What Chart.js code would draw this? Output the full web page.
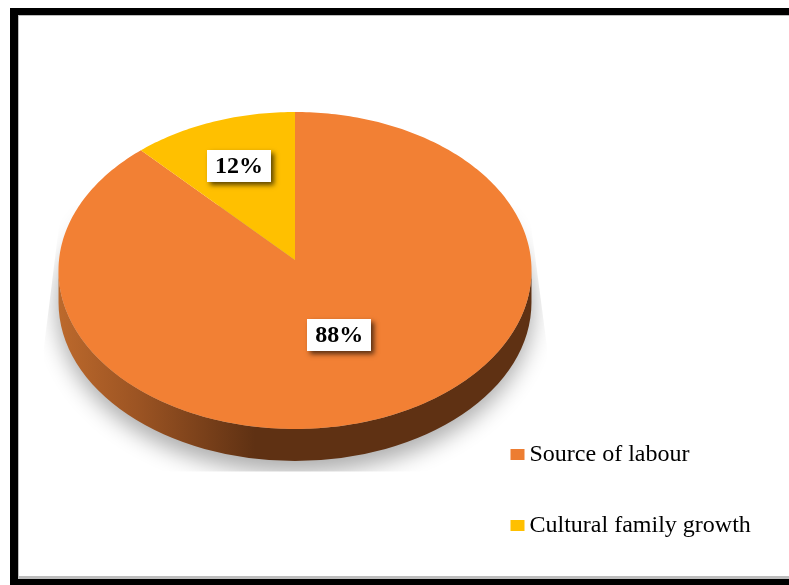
<!DOCTYPE html>
<html>
<head>
<meta charset="utf-8">
<title>Source of labour and cultural family growth</title>
<style>
  html, body { margin: 0; padding: 0; background: #fff; }
  canvas { display: block; }
</style>
<script src="https://cdn.jsdelivr.net/npm/chart.js@4/dist/chart.umd.js"></script>
</head>
<body>
<canvas id="chart" width="789" height="585"></canvas>
<script>
// Chart data
const categories = ['Source of labour', 'Cultural family growth'];
const shares = [88, 12];

// Slice and legend colours
const faceColors = ['#F28034', '#FFC000'];
const legendColors = ['#ED7D31', '#FFC000'];

// Distance of each value label from the pie centre, as a fraction of the radius
const labelRadii = [0.495, 0.67];

const SERIF = '"Liberation Serif", "Times New Roman", serif';
const TILT = { squash: 0.6686, perspective: -0.0662, depth: 32 };

// Maps a point of the unit circle onto the tilted disc
function project(arc, u, v) {
  const w = 1 + TILT.perspective * v;
  return {
    x: arc.x + arc.outerRadius * u / w,
    y: arc.y + arc.outerRadius * TILT.squash * v / w
  };
}

// Extents of the tilted disc, which projects to an ellipse
function discEllipse(arc) {
  const top = project(arc, 0, -1);
  const bottom = project(arc, 0, 1);
  const ry = (bottom.y - top.y) / 2;
  return { cx: arc.x, cy: top.y + ry, rx: arc.outerRadius * 1.002, ry };
}

// Pie slice drawn in perspective from the angles the controller computes
class TiltedArc extends Chart.elements.ArcElement {
  draw(ctx) {
    const { startAngle, endAngle } = this;
    const steps = Math.max(8, Math.ceil((endAngle - startAngle) * 60));
    ctx.save();
    ctx.fillStyle = this.options.backgroundColor;
    ctx.beginPath();
    ctx.moveTo(this.x, this.y);
    for (let i = 0; i <= steps; i++) {
      const a = startAngle + (endAngle - startAngle) * i / steps;
      const p = project(this, Math.cos(a), Math.sin(a));
      ctx.lineTo(p.x, p.y);
    }
    ctx.closePath();
    ctx.fill();
    ctx.restore();
  }
}
TiltedArc.id = 'tiltedArc';
Chart.register(TiltedArc);
Chart.defaults.datasets.pie.dataElementType = 'tiltedArc';

// Black frame around the figure
const framePlugin = {
  id: 'frame',
  beforeDraw(chart) {
    const { ctx, width, height } = chart;
    ctx.save();
    ctx.fillStyle = '#fff';
    ctx.fillRect(0, 0, width, height);
    ctx.fillStyle = '#000';
    ctx.fillRect(10, 8, width - 10, 7);
    ctx.fillRect(10, 8, 8, height - 8);
    ctx.fillRect(10, 579, width - 10, height - 579);
    ctx.fillStyle = '#bdbdbd';
    ctx.fillRect(18, 15, width - 18, 1);
    ctx.fillRect(18, 15, 1, 561);
    ctx.fillRect(18, 576, width - 18, 3);
    ctx.restore();
  }
};

// Ground shadow and the rim of the disc, both underneath the slices
const rimPlugin = {
  id: 'rim',
  beforeDatasetsDraw(chart) {
    const { ctx } = chart;
    const arc = chart.getDatasetMeta(0).data[0];
    const e = discEllipse(arc);

    ctx.save();
    ctx.beginPath();
    ctx.moveTo(e.cx - e.rx + 3, e.cy - 65);
    ctx.lineTo(e.cx + e.rx - 3, e.cy - 65);
    ctx.lineTo(e.cx + e.rx + 16, e.cy + 80);
    ctx.lineTo(e.cx + e.rx + 16, e.cy + 201);
    ctx.lineTo(e.cx - e.rx - 15, e.cy + 201);
    ctx.lineTo(e.cx - e.rx - 15, e.cy + 80);
    ctx.closePath();
    ctx.clip();
    ctx.shadowColor = 'rgba(0,0,0,0.32)';
    ctx.shadowBlur = 22;
    ctx.fillStyle = 'rgba(0,0,0,1)';
    ctx.shadowOffsetX = 2000;
    ctx.beginPath();
    ctx.ellipse(e.cx - 2000, e.cy + 36, e.rx + 2, e.ry + 8, 0, 0, Math.PI * 2);
    ctx.fill();
    ctx.restore();

    const grad = ctx.createLinearGradient(e.cx - e.rx, 0, e.cx - 40, 0);
    grad.addColorStop(0, '#BC692C');
    grad.addColorStop(0.4, '#9C5423');
    grad.addColorStop(1, '#5F3113');
    ctx.save();
    ctx.fillStyle = grad;
    ctx.beginPath();
    ctx.ellipse(e.cx, e.cy + TILT.depth, e.rx, e.ry, 0, 0, Math.PI);
    ctx.lineTo(e.cx - e.rx, e.cy);
    ctx.ellipse(e.cx, e.cy, e.rx, e.ry, 0, Math.PI, 0, true);
    ctx.closePath();
    ctx.fill();
    ctx.restore();
  }
};

// White value tags with a drop shadow, placed along each slice's mid-angle
const tagPlugin = {
  id: 'tags',
  afterDatasetsDraw(chart) {
    const { ctx } = chart;
    chart.getDatasetMeta(0).data.forEach((arc, i) => {
      const mid = (arc.startAngle + arc.endAngle) / 2;
      const p = project(arc, Math.cos(mid) * labelRadii[i], Math.sin(mid) * labelRadii[i]);
      const w = 64, h = 32;
      ctx.save();
      ctx.shadowColor = 'rgba(0,0,0,0.65)';
      ctx.shadowBlur = 5;
      ctx.shadowOffsetX = 3;
      ctx.shadowOffsetY = 3;
      ctx.fillStyle = '#fff';
      ctx.fillRect(Math.round(p.x - w / 2), Math.round(p.y - h / 2), w, h);
      ctx.restore();
      ctx.save();
      ctx.fillStyle = '#000';
      ctx.font = 'bold 24px ' + SERIF;
      ctx.textAlign = 'center';
      ctx.textBaseline = 'middle';
      ctx.fillText(shares[i] + '%', p.x, p.y + 1);
      ctx.restore();
    });
  }
};

// Legend set in the lower right corner with tight swatch spacing
const keyPlugin = {
  id: 'key',
  afterDraw(chart) {
    const { ctx } = chart;
    const left = 510.5, firstY = 454.5, rowGap = 71;
    categories.forEach((name, i) => {
      const y = firstY + rowGap * i;
      ctx.save();
      ctx.fillStyle = legendColors[i];
      ctx.fillRect(left, y - 5.5, 14, 11);
      ctx.fillStyle = '#000';
      ctx.font = '24px ' + SERIF;
      ctx.textAlign = 'left';
      ctx.textBaseline = 'middle';
      ctx.fillText(name, left + 19, y);
      ctx.restore();
    });
  }
};

new Chart(document.getElementById('chart'), {
  type: 'pie',
  data: {
    labels: categories,
    datasets: [{
      data: shares,
      backgroundColor: faceColors,
      borderWidth: 0
    }]
  },
  options: {
    responsive: false,
    animation: false,
    layout: { padding: { left: 59, right: 258, top: 24, bottom: 89 } },
    plugins: {
      legend: { display: false },
      tooltip: { enabled: false }
    }
  },
  plugins: [framePlugin, rimPlugin, tagPlugin, keyPlugin]
});
</script>
</body>
</html>
